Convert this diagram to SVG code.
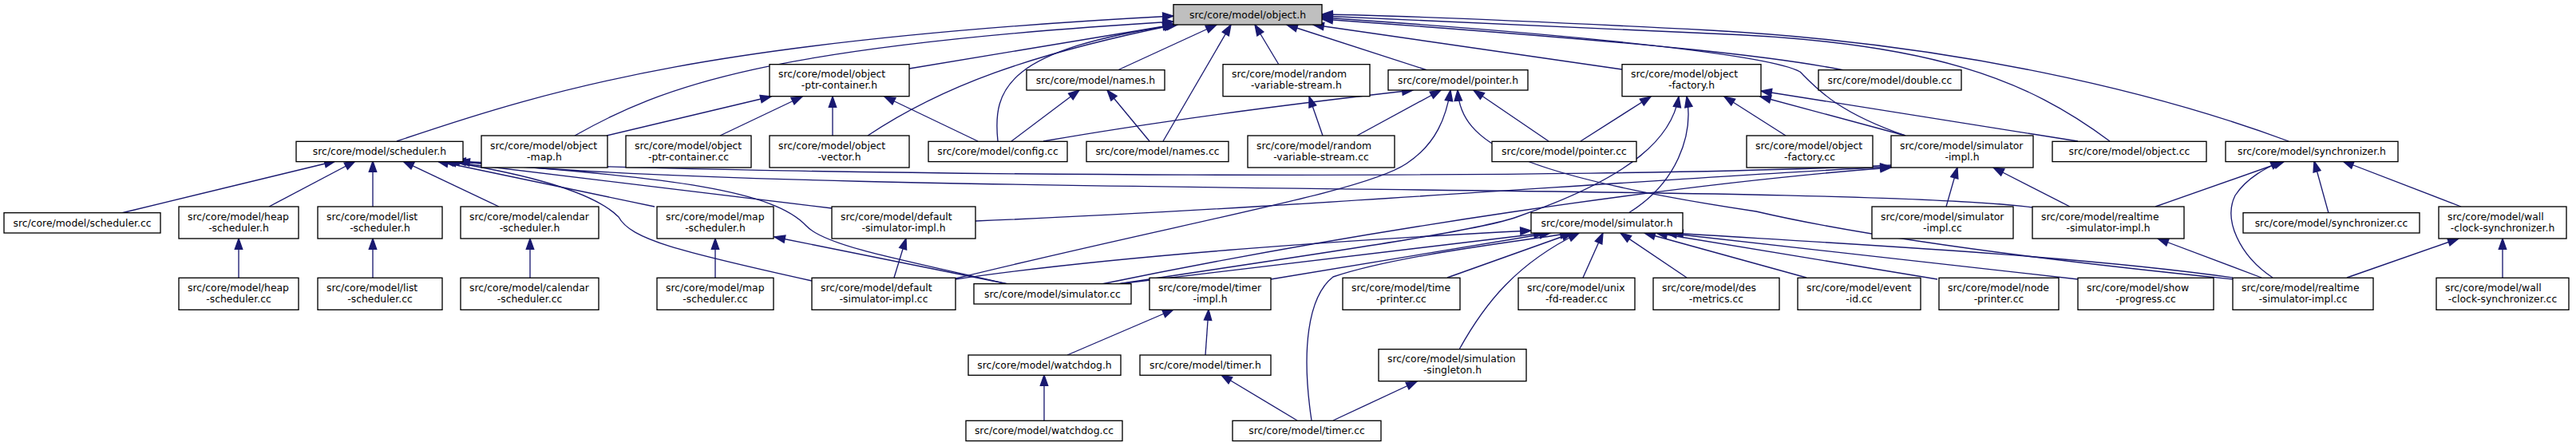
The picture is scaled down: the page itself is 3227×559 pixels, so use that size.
<svg xmlns="http://www.w3.org/2000/svg" width="3227" height="559" viewBox="0 0 3227 559">
<style>
.n rect{fill:#fff;stroke:#000;stroke-width:1.33}
.root rect{fill:#bfbfbf}
text{font-family:"DejaVu Sans",sans-serif;font-size:12.4px;fill:#000}
.c{text-anchor:middle}
.e path{fill:none;stroke:#191970;stroke-width:1.33;marker-end:url(#ah)}
</style>
<defs>
<marker id="ah" markerUnits="userSpaceOnUse" markerWidth="16" markerHeight="12" refX="13.3" refY="4.7" orient="auto" overflow="visible">
<path d="M0,0 L13.3,4.7 L0,9.4 z" fill="#191970" stroke="#191970" stroke-width="1.33"/>
</marker>
</defs>
<rect width="3227" height="559" fill="#fff"/>
<g id="edges" class="e">
<path d="M497,177 C700,108 900,50 1470,20"/>
<path d="M720,170 C830,108 960,58 1470,27"/>
<path d="M1139,86 L1470,31"/>
<path d="M1087,170 C1180,108 1290,68 1472,31"/>
<path d="M1250,177 C1243,110 1262,62 1475,31"/>
<path d="M1400,88 L1524,31"/>
<path d="M1457,177 L1542,31"/>
<path d="M1602,81 L1572,31"/>
<path d="M1788,88 L1612,31"/>
<path d="M2032,87 L1645,31"/>
<path d="M2310,88 C2230,72 2100,56 1656,24"/>
<path d="M2387,170 C2300,140 2275,110 2255,90 C2220,70 2000,45 1656,22"/>
<path d="M2643,177 C2540,100 2420,52 2143,42 C1950,34 1780,25 1656,20"/>
<path d="M2867,177 C2700,115 2450,55 2143,38 C1950,28 1780,20 1656,18"/>
<path d="M760,170 L966,121"/>
<path d="M902,170 L1005,121"/>
<path d="M1043,170 L1043,121"/>
<path d="M1225,177 L1108,121"/>
<path d="M1267,177 L1352,113"/>
<path d="M1440,177 L1387,113"/>
<path d="M1657,170 L1640,121"/>
<path d="M1307,177 C1450,152 1620,130 1770,113"/>
<path d="M1700,170 L1805,113"/>
<path d="M1940,177 L1846,113"/>
<path d="M1197,349 C1500,275 1710,240 1762,205 C1800,180 1812,145 1817,113"/>
<path d="M2797,350 C2600,330 2350,300 2200,265 C1900,220 1830,180 1826,113"/>
<path d="M1980,177 L2068,121"/>
<path d="M2237,170 L2160,121"/>
<path d="M2387,170 L2205,121"/>
<path d="M2603,177 L2206,114"/>
<path d="M2040,267 C2100,230 2122,170 2113,121"/>
<path d="M1400,356 C1650,318 1850,290 1900,272 C2050,220 2095,170 2103,121"/>
<path d="M152,267 L420,202"/>
<path d="M337,259 L445,202"/>
<path d="M467,259 L467,202"/>
<path d="M625,259 L505,202"/>
<path d="M820,259 L548,202"/>
<path d="M1042,261 L555,202"/>
<path d="M1017,352 C850,315 790,300 775,272 C740,237 640,215 558,202"/>
<path d="M1263,356 C1100,320 1030,305 1010,283 C970,240 850,222 562,202"/>
<path d="M2369,207 C2000,226 1000,222 570,202"/>
<path d="M2547,260 C2300,228 1000,248 575,202"/>
<path d="M299,348 L299,299"/>
<path d="M467,348 L467,299"/>
<path d="M664,348 L664,299"/>
<path d="M896,348 L896,299"/>
<path d="M1263,356 L970,297"/>
<path d="M1120,348 L1135,299"/>
<path d="M1222,277 C1600,262 2100,222 2369,209"/>
<path d="M2438,259 L2452,210"/>
<path d="M2593,259 L2497,210"/>
<path d="M1380,356 C1700,290 2100,230 2369,210"/>
<path d="M2917,267 L2899,202"/>
<path d="M3083,259 L2935,202"/>
<path d="M2700,259 L2862,202"/>
<path d="M2847,348 C2805,320 2785,275 2800,245 C2815,222 2840,210 2858,202"/>
<path d="M3135,348 L3135,299"/>
<path d="M2940,348 L3080,299"/>
<path d="M2833,348 L2703,299"/>
<path d="M1197,350 C1400,320 1700,300 1918,289"/>
<path d="M1400,356 L1935,292"/>
<path d="M1592,350 L1942,292"/>
<path d="M1643,527 C1630,440 1638,372 1670,347 C1750,320 1900,303 1968,292"/>
<path d="M1813,348 L1970,292"/>
<path d="M1828,438 C1860,380 1900,330 1978,292"/>
<path d="M1983,348 L2008,292"/>
<path d="M2113,348 L2030,292"/>
<path d="M2263,348 L2060,292"/>
<path d="M2427,350 L2075,292"/>
<path d="M2603,350 L2087,292"/>
<path d="M2797,348 C2600,320 2300,305 2095,292"/>
<path d="M1337,445 L1470,388"/>
<path d="M1510,445 L1514,388"/>
<path d="M1308,527 L1308,470"/>
<path d="M1625,527 L1530,470"/>
<path d="M1670,527 L1775,478"/>
</g>
<g id="object_h" class="n root"><rect x="1470" y="5.7" width="186" height="25.3"/><text class="c" x="1563" y="22.7">src/core/model/object.h</text></g>
<g id="object_ptr_container_h" class="n"><rect x="964" y="80.7" width="175" height="40"/><text x="975" y="97.4">src/core/model/object</text><text class="c" x="1051.5" y="111.4">-ptr-container.h</text></g>
<g id="names_h" class="n"><rect x="1286" y="87.7" width="173" height="25.3"/><text class="c" x="1372.5" y="104.7">src/core/model/names.h</text></g>
<g id="random_variable_stream_h" class="n"><rect x="1532" y="80.7" width="184" height="40"/><text x="1543" y="97.4">src/core/model/random</text><text class="c" x="1624" y="111.4">-variable-stream.h</text></g>
<g id="pointer_h" class="n"><rect x="1739" y="87.7" width="175" height="25.3"/><text class="c" x="1826.5" y="104.7">src/core/model/pointer.h</text></g>
<g id="object_factory_h" class="n"><rect x="2032" y="80.7" width="174" height="40"/><text x="2043" y="97.4">src/core/model/object</text><text class="c" x="2119" y="111.4">-factory.h</text></g>
<g id="double_cc" class="n"><rect x="2278" y="87.7" width="179" height="25.3"/><text class="c" x="2367.5" y="104.7">src/core/model/double.cc</text></g>
<g id="scheduler_h" class="n"><rect x="371" y="177.3" width="209" height="25.3"/><text class="c" x="475.5" y="194.3">src/core/model/scheduler.h</text></g>
<g id="object_map_h" class="n"><rect x="603" y="170" width="158" height="40"/><text x="614" y="186.7">src/core/model/object</text><text class="c" x="682" y="200.7">-map.h</text></g>
<g id="object_ptr_container_cc" class="n"><rect x="784" y="170" width="157" height="40"/><text x="795" y="186.7">src/core/model/object</text><text class="c" x="862.5" y="200.7">-ptr-container.cc</text></g>
<g id="object_vector_h" class="n"><rect x="964" y="170" width="175" height="40"/><text x="975" y="186.7">src/core/model/object</text><text class="c" x="1051.5" y="200.7">-vector.h</text></g>
<g id="config_cc" class="n"><rect x="1163" y="177.3" width="174" height="25.3"/><text class="c" x="1250" y="194.3">src/core/model/config.cc</text></g>
<g id="names_cc" class="n"><rect x="1361" y="177.3" width="178" height="25.3"/><text class="c" x="1450" y="194.3">src/core/model/names.cc</text></g>
<g id="random_variable_stream_cc" class="n"><rect x="1563" y="170" width="184" height="40"/><text x="1574" y="186.7">src/core/model/random</text><text class="c" x="1655" y="200.7">-variable-stream.cc</text></g>
<g id="pointer_cc" class="n"><rect x="1869" y="177.3" width="181" height="25.3"/><text class="c" x="1959.5" y="194.3">src/core/model/pointer.cc</text></g>
<g id="object_factory_cc" class="n"><rect x="2188" y="170" width="158" height="40"/><text x="2199" y="186.7">src/core/model/object</text><text class="c" x="2267" y="200.7">-factory.cc</text></g>
<g id="simulator_impl_h" class="n"><rect x="2369" y="170" width="178" height="40"/><text x="2380" y="186.7">src/core/model/simulator</text><text class="c" x="2458" y="200.7">-impl.h</text></g>
<g id="object_cc" class="n"><rect x="2571" y="177.3" width="193" height="25.3"/><text class="c" x="2667.5" y="194.3">src/core/model/object.cc</text></g>
<g id="synchronizer_h" class="n"><rect x="2788" y="177.3" width="216" height="25.3"/><text class="c" x="2896" y="194.3">src/core/model/synchronizer.h</text></g>
<g id="scheduler_cc" class="n"><rect x="5" y="266.7" width="196" height="25.3"/><text class="c" x="103" y="283.7">src/core/model/scheduler.cc</text></g>
<g id="heap_scheduler_h" class="n"><rect x="224" y="259" width="150" height="40"/><text x="235" y="275.7">src/core/model/heap</text><text class="c" x="299" y="289.7">-scheduler.h</text></g>
<g id="list_scheduler_h" class="n"><rect x="398" y="259" width="156" height="40"/><text x="409" y="275.7">src/core/model/list</text><text class="c" x="476" y="289.7">-scheduler.h</text></g>
<g id="calendar_scheduler_h" class="n"><rect x="577" y="259" width="173" height="40"/><text x="588" y="275.7">src/core/model/calendar</text><text class="c" x="663.5" y="289.7">-scheduler.h</text></g>
<g id="map_scheduler_h" class="n"><rect x="823" y="259" width="146" height="40"/><text x="834" y="275.7">src/core/model/map</text><text class="c" x="896" y="289.7">-scheduler.h</text></g>
<g id="default_simulator_impl_h" class="n"><rect x="1042" y="259" width="180" height="40"/><text x="1053" y="275.7">src/core/model/default</text><text class="c" x="1132" y="289.7">-simulator-impl.h</text></g>
<g id="simulator_h" class="n"><rect x="1918" y="266.7" width="190" height="25.3"/><text class="c" x="2013" y="283.7">src/core/model/simulator.h</text></g>
<g id="simulator_impl_cc" class="n"><rect x="2345" y="259" width="177" height="40"/><text x="2356" y="275.7">src/core/model/simulator</text><text class="c" x="2433.5" y="289.7">-impl.cc</text></g>
<g id="realtime_simulator_impl_h" class="n"><rect x="2546" y="259" width="190" height="40"/><text x="2557" y="275.7">src/core/model/realtime</text><text class="c" x="2641" y="289.7">-simulator-impl.h</text></g>
<g id="synchronizer_cc" class="n"><rect x="2810" y="266.7" width="221" height="25.3"/><text class="c" x="2920.5" y="283.7">src/core/model/synchronizer.cc</text></g>
<g id="wall_clock_synchronizer_h" class="n"><rect x="3055" y="259" width="160" height="40"/><text x="3066" y="275.7">src/core/model/wall</text><text class="c" x="3135" y="289.7">-clock-synchronizer.h</text></g>
<g id="heap_scheduler_cc" class="n"><rect x="224" y="348.3" width="150" height="40"/><text x="235" y="365">src/core/model/heap</text><text class="c" x="299" y="379">-scheduler.cc</text></g>
<g id="list_scheduler_cc" class="n"><rect x="398" y="348.3" width="156" height="40"/><text x="409" y="365">src/core/model/list</text><text class="c" x="476" y="379">-scheduler.cc</text></g>
<g id="calendar_scheduler_cc" class="n"><rect x="577" y="348.3" width="173" height="40"/><text x="588" y="365">src/core/model/calendar</text><text class="c" x="663.5" y="379">-scheduler.cc</text></g>
<g id="map_scheduler_cc" class="n"><rect x="823" y="348.3" width="146" height="40"/><text x="834" y="365">src/core/model/map</text><text class="c" x="896" y="379">-scheduler.cc</text></g>
<g id="default_simulator_impl_cc" class="n"><rect x="1017" y="348.3" width="180" height="40"/><text x="1028" y="365">src/core/model/default</text><text class="c" x="1107" y="379">-simulator-impl.cc</text></g>
<g id="simulator_cc" class="n"><rect x="1220" y="355.7" width="197" height="25.3"/><text class="c" x="1318.5" y="372.7">src/core/model/simulator.cc</text></g>
<g id="timer_impl_h" class="n"><rect x="1440" y="348.3" width="152" height="40"/><text x="1451" y="365">src/core/model/timer</text><text class="c" x="1516" y="379">-impl.h</text></g>
<g id="time_printer_cc" class="n"><rect x="1682" y="348.3" width="147" height="40"/><text x="1693" y="365">src/core/model/time</text><text class="c" x="1755.5" y="379">-printer.cc</text></g>
<g id="unix_fd_reader_cc" class="n"><rect x="1902" y="348.3" width="146" height="40"/><text x="1913" y="365">src/core/model/unix</text><text class="c" x="1975" y="379">-fd-reader.cc</text></g>
<g id="des_metrics_cc" class="n"><rect x="2071" y="348.3" width="158" height="40"/><text x="2082" y="365">src/core/model/des</text><text class="c" x="2150" y="379">-metrics.cc</text></g>
<g id="event_id_cc" class="n"><rect x="2252" y="348.3" width="154" height="40"/><text x="2263" y="365">src/core/model/event</text><text class="c" x="2329" y="379">-id.cc</text></g>
<g id="node_printer_cc" class="n"><rect x="2429" y="348.3" width="150" height="40"/><text x="2440" y="365">src/core/model/node</text><text class="c" x="2504" y="379">-printer.cc</text></g>
<g id="show_progress_cc" class="n"><rect x="2603" y="348.3" width="170" height="40"/><text x="2614" y="365">src/core/model/show</text><text class="c" x="2688" y="379">-progress.cc</text></g>
<g id="realtime_simulator_impl_cc" class="n"><rect x="2797" y="348.3" width="176" height="40"/><text x="2808" y="365">src/core/model/realtime</text><text class="c" x="2885" y="379">-simulator-impl.cc</text></g>
<g id="wall_clock_synchronizer_cc" class="n"><rect x="3052" y="348.3" width="166" height="40"/><text x="3063" y="365">src/core/model/wall</text><text class="c" x="3135" y="379">-clock-synchronizer.cc</text></g>
<g id="watchdog_h" class="n"><rect x="1213" y="445" width="191" height="25.3"/><text class="c" x="1308.5" y="462">src/core/model/watchdog.h</text></g>
<g id="timer_h" class="n"><rect x="1428" y="445" width="164" height="25.3"/><text class="c" x="1510" y="462">src/core/model/timer.h</text></g>
<g id="simulation_singleton_h" class="n"><rect x="1727" y="437.7" width="185" height="40"/><text x="1738" y="454.4">src/core/model/simulation</text><text class="c" x="1819.5" y="468.4">-singleton.h</text></g>
<g id="watchdog_cc" class="n"><rect x="1210" y="527.3" width="196" height="25.3"/><text class="c" x="1308" y="544.3">src/core/model/watchdog.cc</text></g>
<g id="timer_cc" class="n"><rect x="1544" y="527.3" width="186" height="25.3"/><text class="c" x="1637" y="544.3">src/core/model/timer.cc</text></g>
</svg>
